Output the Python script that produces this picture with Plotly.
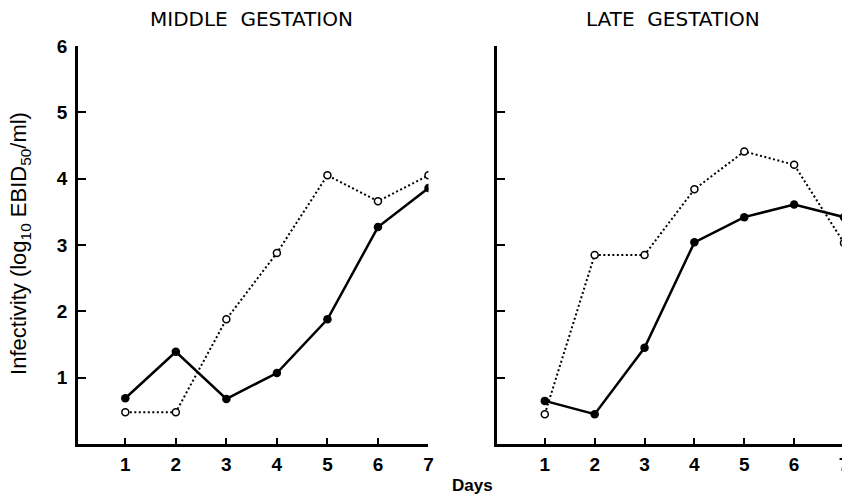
import plotly.graph_objects as go

days = [1, 2, 3, 4, 5, 6, 7]
mid_filled = [0.69, 1.39, 0.68, 1.07, 1.88, 3.27, 3.86]
mid_open = [0.48, 0.48, 1.88, 2.88, 4.05, 3.66, 4.05]
late_filled = [0.65, 0.45, 1.45, 3.04, 3.42, 3.61, 3.42]
late_open = [0.45, 2.85, 2.85, 3.84, 4.41, 4.21, 3.03]
y_ticks = [1, 2, 3, 4, 5, 6]
titles = ["MIDDLE\u00a0\u00a0GESTATION", "LATE\u00a0\u00a0GESTATION"]

# page has an 8px body margin; figure is sized to fill the rest of the window
OFF = 8
W, H = 850 - OFF, 497 - OFF
TOP, BOT = 46 - OFF, 444 - OFF
fig = go.Figure()

def add_panel(xa, ya, filled, opened):
    fig.add_trace(go.Scatter(x=days, y=opened, mode="lines+markers", xaxis=xa, yaxis=ya,
                             line=dict(color="black", width=2, dash="2px,2.5px"),
                             marker=dict(symbol="circle", size=7, color="white",
                                         line=dict(color="black", width=1.5)),
                             showlegend=False))
    fig.add_trace(go.Scatter(x=days, y=filled, mode="lines+markers", xaxis=xa, yaxis=ya,
                             line=dict(color="black", width=2.5),
                             marker=dict(symbol="circle", size=8.5, color="black"),
                             showlegend=False))

add_panel("x", "y", mid_filled, mid_open)
add_panel("x2", "y2", late_filled, late_open)

tickfont = dict(family="Liberation Sans, Arial, sans-serif", size=19, color="black", weight=700)
xcommon = dict(showline=True, linewidth=3, linecolor="black", ticks="inside", ticklen=6,
               tickwidth=2, tickcolor="black", tickvals=days, showgrid=False, zeroline=False,
               tickfont=tickfont, ticklabelstandoff=1)
ycommon = dict(showline=True, linewidth=3, linecolor="black", ticks="inside", ticklen=8,
               tickwidth=2, tickcolor="black", tickvals=y_ticks, range=[0, 6], showgrid=False,
               zeroline=False, tickfont=tickfont)

def px_x(p):
    return (p - OFF) / W

def px_y(p):
    return (H - (p - OFF) - (H - BOT)) / (BOT - TOP)

# left panel: day 1 at 126px, day 7 at 431px; y-axis line at ~77px
L0, L1 = 78.5, 431.0
lu = (431 - 126) / 6
R0 = 499.5
ru = (849 - 548) / 6

fig.update_layout(
    width=W, height=H,
    margin=dict(l=0, r=0, t=TOP, b=H - BOT),
    paper_bgcolor="white", plot_bgcolor="white",
    xaxis=dict(domain=[px_x(L0), px_x(L1)], range=[1 - (126 - L0) / lu, 7], anchor="y", **xcommon),
    yaxis=dict(domain=[0, 1], anchor="x", showticklabels=True, ticklabelstandoff=4, **ycommon),
    xaxis2=dict(domain=[px_x(R0), 1.0], range=[1 - (548 - R0) / ru, 1 + (850 - 548) / ru],
                anchor="y2", **xcommon),
    yaxis2=dict(domain=[0, 1], anchor="x2", showticklabels=False, **ycommon),
)

title_font = dict(family="DejaVu Sans", size=20, color="black")
fig.add_annotation(text=titles[0], x=px_x(253), y=px_y(19), xref="paper", yref="paper",
                   showarrow=False, xanchor="center", yanchor="middle", font=title_font)
fig.add_annotation(text=titles[1], x=px_x(677), y=px_y(19), xref="paper", yref="paper",
                   showarrow=False, xanchor="center", yanchor="middle", font=title_font)
fig.add_annotation(text="Infectivity (log<sub>10</sub> EBID<sub>50</sub>/ml)", textangle=-90,
                   x=px_x(20), y=px_y(243), xref="paper", yref="paper", showarrow=False,
                   xanchor="center", yanchor="middle",
                   font=dict(family="Liberation Sans, Arial, sans-serif", size=22, color="black"))
fig.add_annotation(text="Days", x=px_x(475), y=px_y(486), xref="paper", yref="paper",
                   showarrow=False, xanchor="center", yanchor="middle",
                   font=dict(family="Liberation Sans, Arial, sans-serif", size=17, color="black",
                             weight=700))

fig.write_html("out.html")
